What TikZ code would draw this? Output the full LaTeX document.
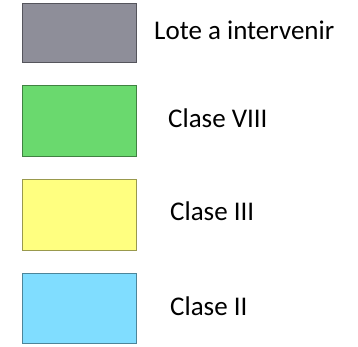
\documentclass[tikz,border=0pt]{standalone}
\usepackage{fontspec}
\setmainfont{Carlito}
\definecolor{cgray}{RGB}{142,142,153}
\definecolor{cgreen}{RGB}{106,217,110}
\definecolor{cyellow}{RGB}{255,255,128}
\definecolor{cblue}{RGB}{128,221,255}
\begin{document}
\begin{tikzpicture}[x=1pt,y=-1pt,
  swatch/.style={draw=#1!60!black, line width=0.9pt, fill=#1},
  lbl/.style={anchor=base west, inner sep=0pt, font=\fontsize{27}{30}\selectfont}]
\useasboundingbox (0,0) rectangle (358,347);
\filldraw[swatch=cgray] (22.5,3.5) rectangle (136,62.5);
\node[lbl] (t1) at (154,39.5) {Lote a intervenir};
\filldraw[swatch=cgreen] (22.5,85.5) rectangle (136,156.5);
\node[lbl] (t2) at (168,127.7) {Clase VIII};
\filldraw[swatch=cyellow] (22.5,179.5) rectangle (136,250);
\node[lbl] (t3) at (170,220) {Clase III};
\filldraw[swatch=cblue] (22.5,273.5) rectangle (136,343);
\node[lbl] (t4) at (170,315) {Clase II};
\end{tikzpicture}
\end{document}
